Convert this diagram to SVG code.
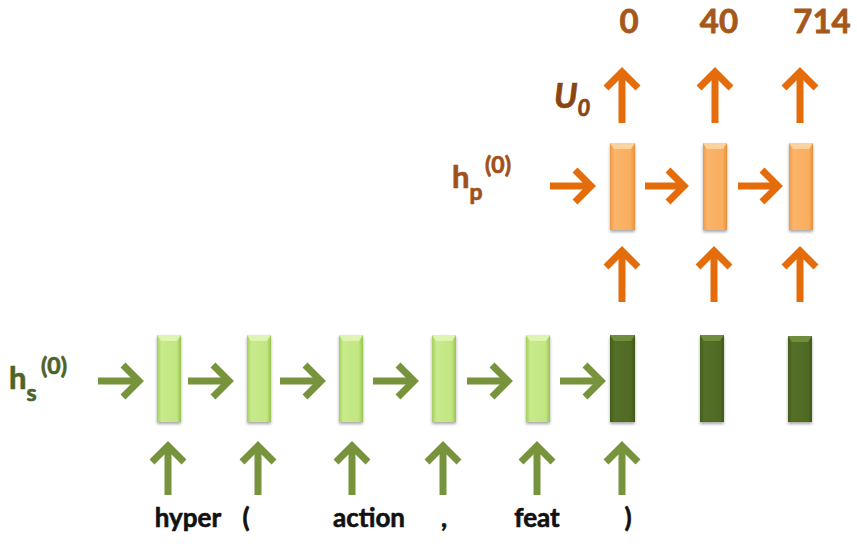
<svg xmlns="http://www.w3.org/2000/svg" width="857" height="544" viewBox="0 0 857 544">
  <style>
    .lbl { font-family: Lato, "Open Sans", "Liberation Sans", sans-serif; font-weight: bold; stroke-linejoin: round; }
    .word { font-size: 26px; fill: #111111; stroke: #111111; stroke-width: 0.6; }
    .num { font-size: 33px; fill: #A5581A; stroke: #A5581A; stroke-width: 0.8; }
    .hs { fill: #4F6228; stroke: #4F6228; stroke-width: 0.7; }
    .hp { fill: #A0501A; stroke: #A0501A; stroke-width: 0.7; }
    .u0 { fill: #8A4512; stroke: #8A4512; stroke-width: 0.7; font-style: italic; }
    .ag { fill: none; stroke: #77933C; stroke-width: 7; }
    .ao { fill: none; stroke: #E46C0A; stroke-width: 7; }
    .edge-g { marker-end: url(#headG); }
    .edge-o { marker-end: url(#headO); }
  </style>
  <defs>
    <marker id="headG" viewBox="-25 -25 35 50" markerWidth="35" markerHeight="50" refX="0" refY="0" orient="auto" markerUnits="userSpaceOnUse">
      <path d="M-16,-16 L0,0 L-16,16" fill="none" stroke="#77933C" stroke-width="7"/>
    </marker>
    <marker id="headO" viewBox="-25 -25 35 50" markerWidth="35" markerHeight="50" refX="0" refY="0" orient="auto" markerUnits="userSpaceOnUse">
      <path d="M-16,-16 L0,0 L-16,16" fill="none" stroke="#E46C0A" stroke-width="7"/>
    </marker>
    <linearGradient id="gLight" x1="0" y1="0" x2="1" y2="0">
      <stop offset="0" stop-color="#A5CF5C"/>
      <stop offset="0.18" stop-color="#C8EA8C"/>
      <stop offset="0.82" stop-color="#C2E681"/>
      <stop offset="1" stop-color="#9AC44E"/>
    </linearGradient>
    <linearGradient id="gDark" x1="0" y1="0" x2="1" y2="0">
      <stop offset="0" stop-color="#435D1C"/>
      <stop offset="0.18" stop-color="#546F27"/>
      <stop offset="0.82" stop-color="#506B24"/>
      <stop offset="1" stop-color="#405819"/>
    </linearGradient>
    <linearGradient id="gOrange" x1="0" y1="0" x2="1" y2="0">
      <stop offset="0" stop-color="#EE9A45"/>
      <stop offset="0.18" stop-color="#FBB46A"/>
      <stop offset="0.82" stop-color="#F9AE60"/>
      <stop offset="1" stop-color="#E98F38"/>
    </linearGradient>
    <filter id="shadow" x="-30%" y="-10%" width="160%" height="125%">
      <feGaussianBlur in="SourceAlpha" stdDeviation="1.5"/>
      <feOffset dx="0" dy="2" result="b"/>
      <feComponentTransfer><feFuncA type="linear" slope="0.35"/></feComponentTransfer>
      <feMerge><feMergeNode/><feMergeNode in="SourceGraphic"/></feMerge>
    </filter>
  </defs>

  <!-- encoder cells (light) -->
  <g id="s1" filter="url(#shadow)"><rect x="157" y="335" width="24" height="87" fill="url(#gLight)"/><polygon points="157,335 181,335 177,341 161,341" fill="#DDF5B0"/></g>
  <g id="s2" filter="url(#shadow)"><rect x="247" y="335" width="24" height="87" fill="url(#gLight)"/><polygon points="247,335 271,335 267,341 251,341" fill="#DDF5B0"/></g>
  <g id="s3" filter="url(#shadow)"><rect x="339" y="335" width="24" height="87" fill="url(#gLight)"/><polygon points="339,335 363,335 359,341 343,341" fill="#DDF5B0"/></g>
  <g id="s4" filter="url(#shadow)"><rect x="432" y="335" width="24" height="87" fill="url(#gLight)"/><polygon points="432,335 456,335 452,341 436,341" fill="#DDF5B0"/></g>
  <g id="s5" filter="url(#shadow)"><rect x="526" y="335" width="24" height="87" fill="url(#gLight)"/><polygon points="526,335 550,335 546,341 530,341" fill="#DDF5B0"/></g>

  <!-- encoder cells (dark) -->
  <g id="s6" filter="url(#shadow)"><rect x="610" y="335" width="25" height="87" fill="url(#gDark)"/><polygon points="610,335 635,335 631,341 614,341" fill="#6F8C3E"/></g>
  <g id="s7" filter="url(#shadow)"><rect x="700" y="335" width="24" height="87" fill="url(#gDark)"/><polygon points="700,335 724,335 720,341 704,341" fill="#6F8C3E"/></g>
  <g id="s8" filter="url(#shadow)"><rect x="788" y="336" width="24" height="86" fill="url(#gDark)"/><polygon points="788,336 812,336 808,342 792,342" fill="#6F8C3E"/></g>

  <!-- decoder cells -->
  <g id="p1" filter="url(#shadow)"><rect x="610" y="143" width="25" height="87" fill="url(#gOrange)"/><polygon points="610,143 635,143 631,149 614,149" fill="#FCD29E"/></g>
  <g id="p2" filter="url(#shadow)"><rect x="703" y="143" width="24" height="87" fill="url(#gOrange)"/><polygon points="703,143 727,143 723,149 707,149" fill="#FCD29E"/></g>
  <g id="p3" filter="url(#shadow)"><rect x="789" y="143" width="24" height="87" fill="url(#gOrange)"/><polygon points="789,143 813,143 809,149 793,149" fill="#FCD29E"/></g>

  <!-- labels -->
  <g id="label-hs">
    <text class="lbl hs" x="9" y="389" font-size="31">h<tspan font-size="23" dy="12">s</tspan><tspan font-size="23" x="41" dy="-27">(0)</tspan></text>
  </g>
  <g id="label-hp">
    <text class="lbl hp" x="452" y="188" font-size="31">h<tspan font-size="23" dy="12">p</tspan><tspan font-size="23" x="485" dy="-27">(0)</tspan></text>
  </g>
  <g id="label-u0">
    <text class="lbl u0" x="554" y="108" font-size="34">U<tspan font-size="22" dy="8">0</tspan></text>
  </g>
  <g id="outputs">
    <text class="lbl num" x="629" y="33" text-anchor="middle">0</text>
    <text class="lbl num" x="719" y="33" text-anchor="middle">40</text>
    <text class="lbl num" x="822" y="33" text-anchor="middle">714</text>
  </g>
  <g id="tokens">
    <text class="lbl word" x="188" y="527" text-anchor="middle">hyper</text>
    <text class="lbl word" x="246" y="527" text-anchor="middle">(</text>
    <text class="lbl word" x="369" y="527" text-anchor="middle">action</text>
    <text class="lbl word" x="444" y="527" text-anchor="middle">,</text>
    <text class="lbl word" x="537" y="527" text-anchor="middle">feat</text>
    <text class="lbl word" x="628" y="527" text-anchor="middle">)</text>
  </g>

  <!-- connectors -->
  <g id="connectors">
    <!-- encoder recurrence -->
    <line class="ag edge-g" x1="98" y1="381" x2="139" y2="381"/>
    <line class="ag edge-g" x1="188" y1="381" x2="229" y2="381"/>
    <line class="ag edge-g" x1="280" y1="381" x2="321" y2="381"/>
    <line class="ag edge-g" x1="373" y1="381" x2="414" y2="381"/>
    <line class="ag edge-g" x1="467" y1="381" x2="508" y2="381"/>
    <line class="ag edge-g" x1="560" y1="381" x2="601" y2="381"/>
    <!-- token inputs -->
    <line class="ag edge-g" x1="168" y1="495" x2="168" y2="446"/>
    <line class="ag edge-g" x1="258" y1="495" x2="258" y2="446"/>
    <line class="ag edge-g" x1="352" y1="495" x2="352" y2="446"/>
    <line class="ag edge-g" x1="443" y1="495" x2="443" y2="446"/>
    <line class="ag edge-g" x1="537" y1="495" x2="537" y2="446"/>
    <line class="ag edge-g" x1="622" y1="495" x2="622" y2="446"/>
    <!-- decoder recurrence -->
    <line class="ao edge-o" x1="550" y1="186" x2="591" y2="186"/>
    <line class="ao edge-o" x1="645" y1="186" x2="684" y2="186"/>
    <line class="ao edge-o" x1="738" y1="186" x2="778" y2="186"/>
    <!-- encoder to decoder -->
    <line class="ao edge-o" x1="622" y1="302" x2="622" y2="251"/>
    <line class="ao edge-o" x1="714" y1="302" x2="714" y2="251"/>
    <line class="ao edge-o" x1="800" y1="302" x2="800" y2="251"/>
    <!-- outputs -->
    <line class="ao edge-o" x1="622" y1="123" x2="622" y2="72"/>
    <line class="ao edge-o" x1="715" y1="123" x2="715" y2="72"/>
    <line class="ao edge-o" x1="800" y1="123" x2="800" y2="72"/>
  </g>
</svg>
